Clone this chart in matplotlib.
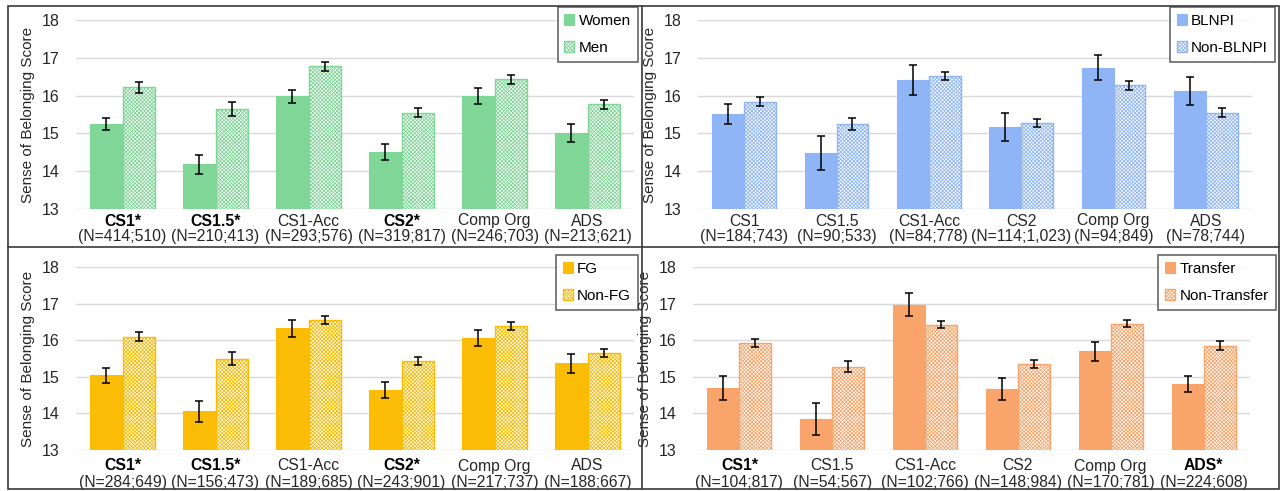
import matplotlib.pyplot as plt
import numpy as np

plt.rcParams['font.family'] = ['Liberation Sans', 'DejaVu Sans']
plt.rcParams['hatch.linewidth'] = 0.6

categories = ['CS1', 'CS1.5', 'CS1-Acc', 'CS2', 'Comp Org', 'ADS']

# panel 1: gender
gender_labels = ['Women', 'Men']
gender_n = ['414;510', '210;413', '293;576', '319;817', '246;703', '213;621']
gender_sig = [True, True, False, True, False, False]
women = [15.25, 14.18, 15.98, 14.50, 16.00, 15.02]
women_err = [0.17, 0.26, 0.18, 0.21, 0.21, 0.24]
men = [16.22, 15.65, 16.77, 15.55, 16.43, 15.77]
men_err = [0.14, 0.18, 0.12, 0.12, 0.12, 0.12]

# panel 2: BLNPI
blnpi_labels = ['BLNPI', 'Non-BLNPI']
blnpi_n = ['184;743', '90;533', '84;778', '114;1,023', '94;849', '78;744']
blnpi_sig = [False] * 6
blnpi = [15.52, 14.48, 16.41, 15.17, 16.74, 16.12]
blnpi_err = [0.27, 0.46, 0.40, 0.37, 0.33, 0.38]
non_blnpi = [15.84, 15.25, 16.52, 15.27, 16.27, 15.55]
non_blnpi_err = [0.12, 0.15, 0.10, 0.10, 0.11, 0.12]

# panel 3: first generation
fg_labels = ['FG', 'Non-FG']
fg_n = ['284;649', '156;473', '189;685', '243;901', '217;737', '188;667']
fg_sig = [True, True, False, True, False, False]
fg = [15.04, 14.06, 16.32, 14.65, 16.05, 15.37]
fg_err = [0.20, 0.29, 0.24, 0.22, 0.22, 0.26]
non_fg = [16.10, 15.50, 16.55, 15.42, 16.38, 15.65]
non_fg_err = [0.12, 0.17, 0.11, 0.11, 0.11, 0.12]

# panel 4: transfer
tr_labels = ['Transfer', 'Non-Transfer']
tr_n = ['104;817', '54;567', '102;766', '148;984', '170;781', '224;608']
tr_sig = [True, False, False, False, False, True]
transfer = [14.70, 13.85, 16.97, 14.67, 15.70, 14.80]
transfer_err = [0.33, 0.44, 0.32, 0.31, 0.26, 0.22]
non_transfer = [15.93, 15.28, 16.42, 15.35, 16.45, 15.85]
non_transfer_err = [0.11, 0.15, 0.10, 0.10, 0.10, 0.12]

W, H = 1281, 491
fig = plt.figure(figsize=(W / 100, H / 100), dpi=100)


def px_axes(x0, y0, x1, y1):
    return fig.add_axes([x0 / W, (H - y1) / H, (x1 - x0) / W, (y1 - y0) / H])


def panel(ax, a, a_err, b, b_err, labels, ns, sig, color, leg_box, lab_off):
    x = np.arange(len(categories))
    w = 0.345
    ax.bar(x - w / 2, a, w, color=color, edgecolor=color, linewidth=0.8,
           label=labels[0], zorder=2)
    ax.bar(x + w / 2, b, w, color='white', edgecolor=color, hatch='xxxxxxxxx',
           linewidth=1.0, label=labels[1], zorder=2)
    ax.errorbar(x - w / 2, a, yerr=a_err, fmt='none', ecolor='black',
                elinewidth=1.1, capsize=3, capthick=1.1, zorder=3)
    ax.errorbar(x + w / 2, b, yerr=b_err, fmt='none', ecolor='black',
                elinewidth=1.1, capsize=3, capthick=1.1, zorder=3)
    ax.set_ylim(13, 18)
    ax.set_xlim(-0.5, len(categories) - 0.5)
    ax.set_yticks([13, 14, 15, 16, 17, 18])
    ax.tick_params(axis='y', length=0, labelsize=11.5, pad=12, labelcolor='#262626')
    ax.set_xticks([])
    ax.grid(axis='y', color='#d9d9d9', linewidth=1, zorder=0)
    ax.set_axisbelow(True)
    for s in ax.spines.values():
        s.set_visible(False)
    ax.set_ylabel('Sense of Belonging Score', fontsize=11, color='#262626', labelpad=5)
    for i, cat in enumerate(categories):
        ax.annotate(cat + ('*' if sig[i] else ''), (i, 0), xycoords=('data', 'axes fraction'),
                    xytext=(0, -lab_off[0] * 0.72), textcoords='offset points',
                    ha='center', va='center', fontsize=11.3,
                    color='black' if sig[i] else '#262626',
                    fontweight='bold' if sig[i] else 'normal')
        ax.annotate('(N=' + ns[i] + ')', (i, 0), xycoords=('data', 'axes fraction'),
                    xytext=(0, -lab_off[1] * 0.72), textcoords='offset points',
                    ha='center', va='center', fontsize=11.3, color='#262626')
    leg = ax.legend(loc='upper right', bbox_to_anchor=leg_box, bbox_transform=fig.transFigure,
                    fontsize=11, frameon=True, fancybox=False, handlelength=0.65,
                    handleheight=0.65, handletextpad=0.3, labelspacing=0.85,
                    borderpad=0.45, borderaxespad=0)
    leg.get_frame().set_edgecolor('#404040')
    leg.get_frame().set_linewidth(1.2)


ax1 = px_axes(76, 20, 634, 209)
panel(ax1, women, women_err, men, men_err, gender_labels, gender_n, gender_sig,
      '#7fd696', (638 / W, 1 - 7 / H), (12, 28))
ax2 = px_axes(698, 20, 1252, 209)
panel(ax2, blnpi, blnpi_err, non_blnpi, non_blnpi_err, blnpi_labels, blnpi_n, blnpi_sig,
      '#8fb5f6', (1275 / W, 1 - 7 / H), (12, 28))
ax3 = px_axes(76, 267, 634, 450)
panel(ax3, fg, fg_err, non_fg, non_fg_err, fg_labels, fg_n, fg_sig,
      '#fbbc05', (638 / W, 1 - 255 / H), (16, 32))
ax4 = px_axes(693, 267, 1250, 450)
panel(ax4, transfer, transfer_err, non_transfer, non_transfer_err, tr_labels, tr_n, tr_sig,
      '#f9a46a', (1276 / W, 1 - 255 / H), (16, 32))

# panel frames
border = '#3a3a3a'
fig.add_artist(plt.Rectangle((8 / W, 1 - 489 / H), 1271 / W, 483 / H, fill=False,
                             edgecolor=border, linewidth=1.2, transform=fig.transFigure))
fig.add_artist(plt.Line2D([642 / W, 642 / W], [1 - 489 / H, 1 - 6 / H], color=border,
                          linewidth=1.2, transform=fig.transFigure))
fig.add_artist(plt.Line2D([8 / W, 1279 / W], [1 - 247 / H, 1 - 247 / H], color=border,
                          linewidth=1.2, transform=fig.transFigure))

fig.savefig('out.png', dpi=100)
